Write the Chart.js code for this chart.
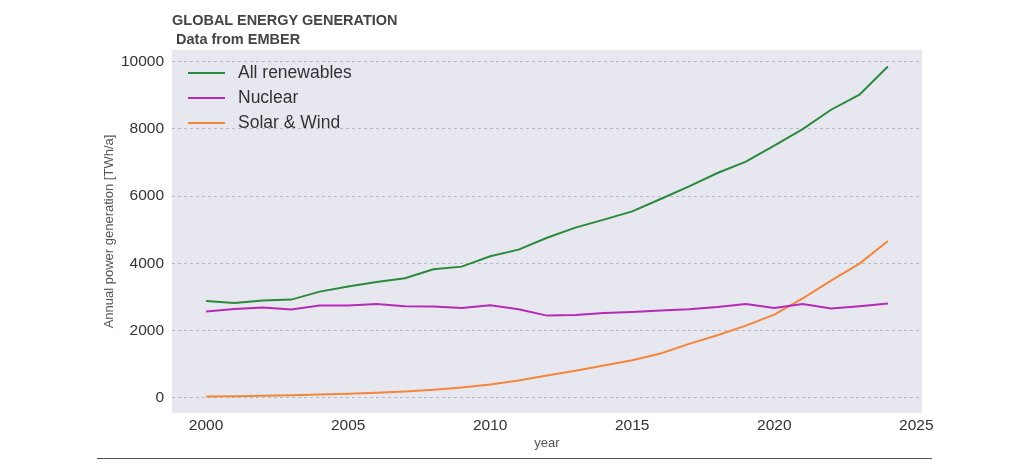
<!DOCTYPE html>
<html>
<head>
<meta charset="utf-8">
<script src="https://cdn.jsdelivr.net/npm/chart.js@4"></script>
<style>
  body { margin: 0; background: #fff; font-family: "Liberation Sans", Arial, sans-serif; }
  #wrap { position: relative; width: 1030px; height: 474px; }
  .title { position: absolute; left: 172px; color: #444; font-weight: bold; font-size: 14.5px; white-space: pre; }
  #rule { position: absolute; left: 97px; top: 458px; width: 835px; height: 1px; background: #555; }
</style>
</head>
<body>
<div id="wrap">
  <canvas id="myChart"></canvas>
  <div class="title" style="top:12px">GLOBAL ENERGY GENERATION</div>
  <div class="title" style="top:31px"> Data from EMBER</div>
  <div id="rule"></div>
</div>
<script>
const years = [2000, 2001, 2002, 2003, 2004, 2005, 2006, 2007, 2008, 2009, 2010, 2011, 2012,
               2013, 2014, 2015, 2016, 2017, 2018, 2019, 2020, 2021, 2022, 2023, 2024]
const renewables = [2878, 2818, 2887, 2917, 3155, 3304, 3443, 3551, 3819, 3899, 4206, 4405, 4760,
                    5060, 5298, 5545, 5913, 6290, 6687, 7024, 7500, 7996, 8571, 9018, 9860]
const nuclear = [2560, 2640, 2679, 2619, 2738, 2738, 2788, 2718, 2710, 2669, 2748, 2629, 2440,
                 2460, 2520, 2550, 2589, 2629, 2699, 2788, 2669, 2788, 2649, 2718, 2798]
const solarWind = [35, 40, 55, 68, 90, 110, 140, 180, 235, 300, 387, 510, 655,
                   800, 955, 1110, 1310, 1598, 1855, 2143, 2470, 2955, 3482, 3988, 4660]
const xTicks = [2000, 2005, 2010, 2015, 2020, 2025]
const yTicks = [0, 2000, 4000, 6000, 8000, 10000]

function points(values) {
    return values.map((v, i) => ({x: years[i], y: v}))
}

// grey plot background like seaborn darkgrid
const plotBackground = {
    id: "plotBackground",
    beforeDraw(chart) {
        let a = chart.chartArea
        let ctx = chart.ctx
        ctx.save()
        ctx.fillStyle = "#e7e8ef"
        ctx.fillRect(a.left, a.top, a.right - a.left, a.bottom - a.top)
        ctx.restore()
    }
}

// legend drawn inside the plot, top left
const innerLegend = {
    id: "innerLegend",
    afterDatasetsDraw(chart) {
        let ctx = chart.ctx
        let a = chart.chartArea
        ctx.save()
        ctx.font = "17.5px 'Liberation Sans', Arial, sans-serif"
        ctx.textBaseline = "middle"
        chart.data.datasets.forEach((ds, i) => {
            let y = a.top + 23 + i * 25
            ctx.strokeStyle = ds.borderColor
            ctx.lineWidth = 2
            ctx.beginPath()
            ctx.moveTo(a.left + 16, y)
            ctx.lineTo(a.left + 53, y)
            ctx.stroke()
            ctx.fillStyle = "#333"
            ctx.fillText(ds.label, a.left + 66, y)
        })
        ctx.restore()
    }
}

let htmlChart = document.getElementById("myChart")

let energyChart = new Chart(htmlChart, {
    type: "line",
    data: {
        datasets: [
            {
                label: "All renewables",
                data: points(renewables),
                borderColor: "#2a8a3c",
                borderWidth: 2,
                pointRadius: 0,
                tension: 0,
            },
            {
                label: "Nuclear",
                data: points(nuclear),
                borderColor: "#b52ab8",
                borderWidth: 2,
                pointRadius: 0,
                tension: 0,
            },
            {
                label: "Solar & Wind",
                data: points(solarWind),
                borderColor: "#f5853a",
                borderWidth: 2,
                pointRadius: 0,
                tension: 0,
            }
        ]
    },
    plugins: [plotBackground, innerLegend],
    options: {
        responsive: true,
        maintainAspectRatio: false,
        animation: false,
        layout: {
            padding: {left: 96, top: 50, right: 108, bottom: 20}
        },
        plugins: {
            legend: {display: false},
            tooltip: {enabled: false}
        },
        scales: {
            x: {
                type: "linear",
                min: 1998.8,
                max: 2025.2,
                afterBuildTicks: (scale) => { scale.ticks = xTicks.map(v => ({value: v})) },
                afterFit: (scale) => { scale.height = 41 },
                grid: {display: false, drawTicks: false, tickLength: 0},
                border: {display: false},
                ticks: {
                    color: "#333",
                    padding: 3,
                    font: {size: 15.5, family: "'Liberation Sans', Arial, sans-serif"},
                    callback: (v) => String(v)
                },
                title: {
                    display: true,
                    text: "year",
                    color: "#555",
                    padding: 3,
                    font: {size: 13, family: "'Liberation Sans', Arial, sans-serif"}
                }
            },
            y: {
                min: -460,
                max: 10350,
                afterBuildTicks: (scale) => { scale.ticks = yTicks.map(v => ({value: v})) },
                afterFit: (scale) => { scale.width = 76 },
                grid: {
                    color: "#b9b9c6",
                    lineWidth: 1,
                    drawTicks: false
                },
                border: {display: false, dash: [3, 3]},
                ticks: {
                    color: "#333",
                    padding: 8,
                    font: {size: 15.5, family: "'Liberation Sans', Arial, sans-serif"},
                    callback: (v) => String(v)
                },
                title: {
                    display: true,
                    text: "Annual power generation [TWh/a]",
                    color: "#555",
                    padding: 6,
                    font: {size: 13, family: "'Liberation Sans', Arial, sans-serif"}
                }
            }
        }
    }
})
</script>
</body>
</html>
